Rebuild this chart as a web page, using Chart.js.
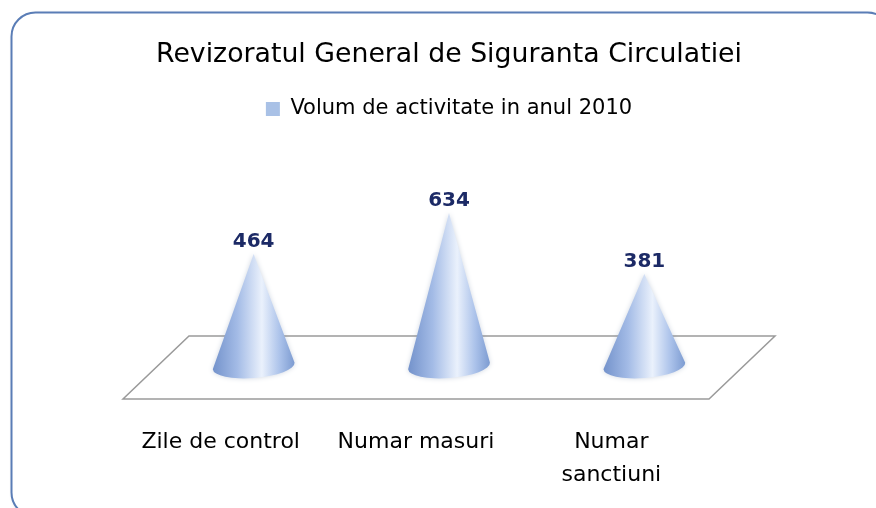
<!DOCTYPE html>
<html>
<head>
<meta charset="utf-8">
<script src="https://cdn.jsdelivr.net/npm/chart.js@4"></script>
<style>
  html, body { margin: 0; padding: 0; background: #fff; }
  #wrap { width: 876px; height: 508px; }
</style>
</head>
<body>
<div id="wrap"><canvas id="coneChart" width="876" height="508"></canvas></div>
<script>
var categories = ['Zile de control', 'Numar masuri', ['Numar', 'sanctiuni']];
var values = [464, 634, 381];
var seriesName = 'Volum de activitate in anul 2010';
var chartTitle = 'Revizoratul General de Siguranta Circulatiei';

var FONT = '"Comic Sans MS", "DejaVu Sans", sans-serif';

function coneGradient(ctx, x0, x1) {
  var g = ctx.createLinearGradient(x0, 0, x1, 0);
  g.addColorStop(0, '#7392cb');
  g.addColorStop(0.3, '#a3bbe6');
  g.addColorStop(0.6, '#eaf1fc');
  g.addColorStop(0.82, '#abc2ea');
  g.addColorStop(1, '#7c9bd1');
  return g;
}

// outer frame + floor, drawn before the datasets
var framePlugin = {
  id: 'frame',
  beforeDraw: function(chart) {
    var ctx = chart.ctx;
    ctx.save();
    ctx.shadowColor = 'rgba(0,0,0,0.25)';
    ctx.shadowBlur = 4;
    ctx.shadowOffsetX = 2;
    ctx.shadowOffsetY = 2;
    ctx.beginPath();
    ctx.roundRect(11.5, 12.5, 880, 504, 24);
    ctx.fillStyle = '#fff';
    ctx.fill();
    ctx.shadowColor = 'transparent';
    ctx.lineWidth = 2;
    ctx.strokeStyle = '#5a7db6';
    ctx.stroke();
    ctx.restore();
  },
  beforeDatasetsDraw: function(chart) {
    var ctx = chart.ctx, a = chart.chartArea;
    var base = chart.scales.y.getPixelForValue(0);
    ctx.save();
    ctx.beginPath();
    ctx.moveTo(a.left + 33, base - 30);
    ctx.lineTo(a.right + 33, base - 30);
    ctx.lineTo(a.right - 33, base + 33);
    ctx.lineTo(a.left - 33, base + 33);
    ctx.closePath();
    ctx.lineWidth = 1.5;
    ctx.strokeStyle = '#9a9a9a';
    ctx.stroke();
    ctx.restore();
  }
};

// cones drawn on top of the (transparent) bars
var conePlugin = {
  id: 'cones',
  afterDatasetsDraw: function(chart) {
    var ctx = chart.ctx;
    var meta = chart.getDatasetMeta(0);
    meta.data.forEach(function(bar, i) {
      var cx = bar.x, top = bar.y, by = bar.base;
      var rx = 41, ry = 12;
      ctx.save();
      ctx.beginPath();
      ctx.moveTo(cx, top);
      ctx.lineTo(cx + rx, by - 3);
      ctx.ellipse(cx, by, rx, ry, -0.08, 0, Math.PI, false);
      ctx.closePath();
      ctx.fillStyle = coneGradient(ctx, cx - rx, cx + rx);
      ctx.shadowColor = 'rgba(120,140,170,0.35)';
      ctx.shadowBlur = 5;
      ctx.fill();
      ctx.restore();
      // value label
      ctx.save();
      ctx.font = 'bold 20px ' + FONT;
      ctx.fillStyle = '#1c2a66';
      ctx.textAlign = 'center';
      ctx.textBaseline = 'middle';
      ctx.fillText(String(values[i]), cx, top - 12);
      ctx.restore();
    });
  }
};

var ctx = document.getElementById('coneChart').getContext('2d');
var chart = new Chart(ctx, {
  type: 'bar',
  data: {
    labels: categories,
    datasets: [{
      label: seriesName,
      data: values,
      backgroundColor: 'rgba(0,0,0,0)',
      borderWidth: 0
    }]
  },
  options: {
    responsive: false,
    animation: false,
    layout: { padding: { left: 156, right: 134, top: 0, bottom: 0 } },
    plugins: {
      title: {
        display: true,
        text: chartTitle,
        color: '#000',
        font: { family: FONT, size: 27, weight: 'normal' },
        padding: { top: 39, bottom: 17 }
      },
      legend: {
        display: true,
        labels: {
          color: '#000',
          font: { family: FONT, size: 21 },
          boxWidth: 14,
          boxHeight: 14,
          generateLabels: function(c) {
            return [{ text: seriesName, fillStyle: '#a9c1e6', strokeStyle: '#a9c1e6', lineWidth: 0, datasetIndex: 0 }];
          }
        }
      },
      tooltip: { enabled: false }
    },
    scales: {
      x: {
        grid: { display: false },
        border: { display: false },
        afterFit: function(scale) { scale.height = 142; },
        ticks: {
          color: '#000',
          font: { family: FONT, size: 22, lineHeight: 1.5 },
          padding: 52,
          labelOffset: -33,
          maxRotation: 0
        }
      },
      y: {
        display: false,
        min: 0,
        max: 980
      }
    }
  },
  plugins: [framePlugin, conePlugin]
});
</script>
</body>
</html>
